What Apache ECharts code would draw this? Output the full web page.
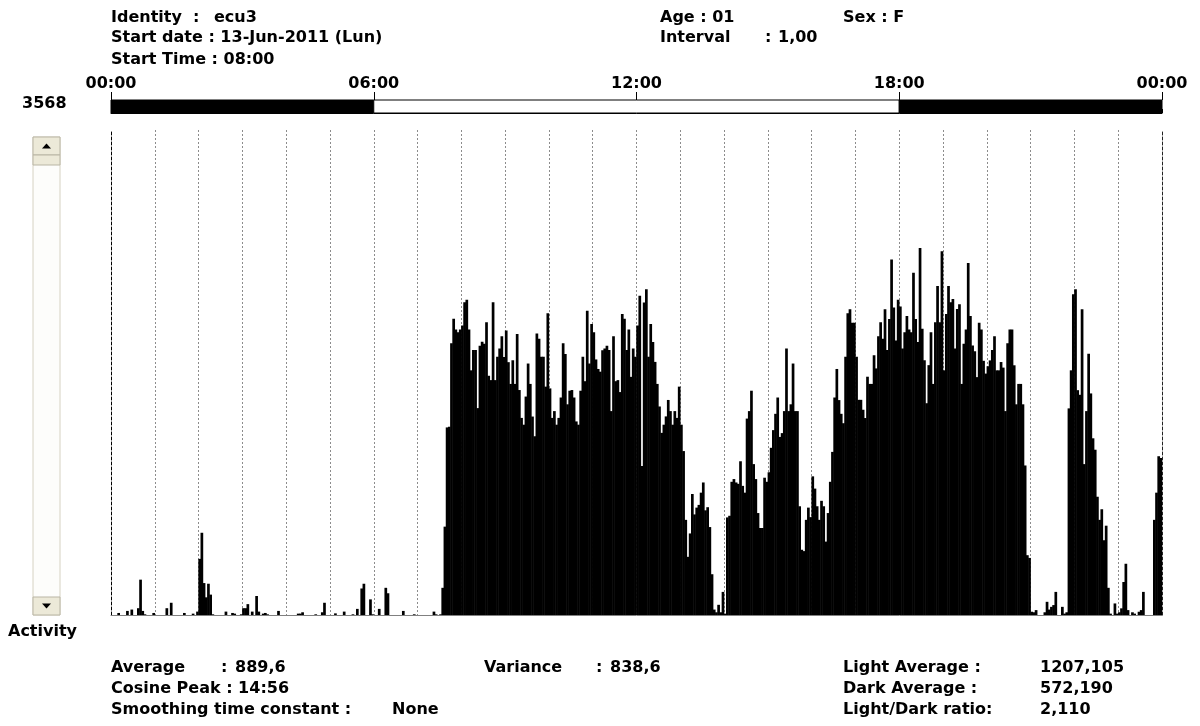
<!DOCTYPE html>
<html><head><meta charset="utf-8">
<script src="https://cdn.jsdelivr.net/npm/echarts@6/dist/echarts.min.js"></script>
<style>html,body{margin:0;padding:0;background:#fff}#c{width:1200px;height:726px}</style>
</head><body><div id="c"></div>
<script>
// ---- data (3-minute bins, 20 per hour) ----
const hourLabels = ['00:00','06:00','12:00','18:00','00:00'];
const lightPhases = [[0,6,0],[6,18,1],[18,24,0]]; // [startHour, endHour, isLight]
const yMax = 3568;
const binsPerHour = 20;

const act00_06 = [
  0,0,0,15,0,0,0,30,0,40,0,0,50,260,30,5,0,0,0,15,
  0,0,0,0,0,50,0,90,0,0,0,0,0,15,0,0,0,10,0,25,
  413,605,235,130,230,150,5,0,0,0,0,0,25,0,0,15,10,0,0,5,
  50,50,80,0,25,0,140,25,0,10,15,5,0,0,0,0,30,0,0,0,
  0,0,0,0,0,10,10,20,0,0,0,0,0,5,0,0,20,90,0,0,
  0,0,12,0,0,0,25,0,0,0,5,0,45,0,195,230,0,0,115,5
];
const act06_12 = [
  0,0,45,0,0,200,160,0,0,0,0,0,0,30,0,0,0,0,5,0,
  0,0,0,0,0,0,0,25,5,0,5,200,650,1380,1385,2000,2180,2100,2080,2100,
  2129,2300,2320,2100,1800,1950,1950,1522,1980,2010,1995,2153,1760,1728,2300,1728,1900,1960,2050,1898,
  2093,1860,1700,1874,1700,2068,1655,1450,1400,1607,1850,1700,1460,1315,2070,2032,1900,1900,1680,2220,
  1667,1450,1500,1400,1450,1600,2000,1920,1550,1650,1655,1600,1424,1400,1650,1900,1720,2238,1850,2140,
  2080,1880,1810,1790,1947,1960,1980,1950,1500,2050,1720,1728,1640,2214,2180,1950,2100,1752,1960,1900
];
const act12_18 = [
  2129,2348,1096,2299,2396,1900,2141,2008,1862,1700,1534,1340,1400,1461,1582,1500,1400,1500,1450,1680,
  1400,1206,700,428,600,890,740,790,810,900,975,770,793,647,300,40,20,75,20,170,
  10,718,730,980,1000,975,965,1131,950,900,1445,1500,1650,1110,1000,750,640,640,1010,980,
  1050,1230,1360,1480,1600,1310,1338,1500,1960,1500,1550,1850,1500,1500,800,480,470,700,790,720,
  1020,930,800,700,840,800,540,750,980,1200,1600,1810,1581,1480,1411,1900,2220,2250,2150,2150,
  1900,1583,1583,1510,1449,1753,1700,1700,1911,1814,2050,2154,2032,2250,1950,2178,2616,2263,2020,2320
];
const act18_24 = [
  2270,1960,2081,2200,2100,2081,2518,2178,2008,2700,2105,1874,1558,1838,2081,1700,2154,2421,2154,2676,
  1800,2215,2421,2300,2324,1960,2251,2287,1700,1995,2100,2590,2200,1983,1940,1750,2150,2100,1870,1776,
  1830,1873,1950,2050,1800,1800,1861,1820,1500,2000,2100,2100,1837,1550,1700,1700,1550,1100,440,420,
  24,20,36,0,0,0,20,97,40,60,73,170,0,0,60,10,20,1520,1800,2360,
  2397,1654,1620,2250,1110,1500,1922,1630,1300,1216,870,700,778,550,657,200,10,0,85,10,
  20,49,243,377,36,0,20,10,0,24,36,170,0,0,0,0,700,900,1168,1155
];

const activity = act00_06.concat(act06_12, act12_18, act18_24);
const categories = activity.map((_, i) => {
  const m = i * 60 / binsPerHour;
  return String(Math.floor(m / 60)).padStart(2,'0') + ':' + String(m % 60).padStart(2,'0');
});

// ---- layout/style ----
const FONT = 'bold 16px "DejaVu Sans"';
const PL = 111, PW = 1051;
function txt(s, x, y) {
  return {type:'text', style:{text:s, x:x, y:y, font:FONT, fill:'#000', align:'left', verticalAlign:'middle'}};
}
const texts = [
  ['Identity',111,18],[':',193,18],['ecu3',214,18],
  ['Start date : 13-Jun-2011 (Lun)',111,38],
  ['Start Time : 08:00',111,60],
  ['Age : 01',660,18],
  ['Sex : F',843,18],
  ['Interval',660,38],[':',765,38],['1,00',778,38],
  ['3568',22,104],
  ['Activity',8,632],
  ['Average',111,668],[':',221,668],['889,6',235,668],
  ['Cosine Peak : 14:56',111,689],
  ['Smoothing time constant :',111,710],['None',392,710],
  ['Variance',484,668],[':',596,668],['838,6',610,668],
  ['Light Average :',843,668],['1207,105',1040,668],
  ['Dark Average :',843,689],['572,190',1040,689],
  ['Light/Dark ratio:',843,710],['2,110',1040,710]
];
const beige = '#ECE9D8', edge = '#b9b5a4';
const scrollbar = [
  {type:'rect', shape:{x:33,y:137,width:27,height:478}, style:{fill:'#fdfdfb', stroke:'#d6d2c2', lineWidth:1}},
  {type:'rect', shape:{x:33,y:137,width:27,height:18}, style:{fill:beige, stroke:edge, lineWidth:1}},
  {type:'polygon', shape:{points:[[42,148.5],[51,148.5],[46.5,143.5]]}, style:{fill:'#000'}},
  {type:'rect', shape:{x:33,y:155,width:27,height:10}, style:{fill:beige, stroke:edge, lineWidth:1}},
  {type:'rect', shape:{x:33,y:597,width:27,height:18}, style:{fill:beige, stroke:edge, lineWidth:1}},
  {type:'polygon', shape:{points:[[42,603.5],[51,603.5],[46.5,608.5]]}, style:{fill:'#000'}}
];

const chart = echarts.init(document.getElementById('c'), null, {renderer:'canvas'});
chart.setOption({
  animation:false,
  backgroundColor:'#fff',
  grid:[
    {left:PL, top:130, width:PW, height:485},
    {left:PL, top:100, width:PW, height:13}
  ],
  xAxis:[
    {type:'category', gridIndex:0, data:categories, boundaryGap:true, position:'bottom',
     axisLine:{show:true, lineStyle:{color:'#808080', width:1}}, axisTick:{show:false}, axisLabel:{show:false}, splitLine:{show:false}},
    {type:'value', gridIndex:0, min:0, max:24, interval:1, position:'top',
     axisLine:{show:false}, axisTick:{show:false}, axisLabel:{show:false},
     splitLine:{show:true, showMinLine:false, showMaxLine:false, lineStyle:{color:'#8c8c8c', width:1, type:[2,2]}}},
    {type:'value', gridIndex:1, min:0, max:24, interval:1, position:'top',
     axisLine:{show:true, lineStyle:{color:'#000', width:1}},
     axisTick:{show:true, length:4, lineStyle:{color:'#000', width:1}},
     axisLabel:{show:true, margin:8, color:'#000', fontFamily:'DejaVu Sans', fontWeight:'bold', fontSize:16,
       showMinLabel:true, showMaxLabel:true,
       formatter:v => (v % 6 === 0 ? hourLabels[v/6] : '')},
     splitLine:{show:false}},
    {type:'value', gridIndex:1, min:0, max:24, interval:6, position:'top',
     axisLine:{show:false}, axisTick:{show:true, length:8, lineStyle:{color:'#000', width:1}},
     axisLabel:{show:false}, splitLine:{show:false}}
  ],
  yAxis:[
    {type:'value', gridIndex:0, min:0, max:yMax, position:'left',
     axisLine:{show:true, lineStyle:{color:'#000', width:1, type:[3,2]}}, axisTick:{show:false}, axisLabel:{show:false}, splitLine:{show:false}},
    {type:'value', gridIndex:0, min:0, max:yMax, position:'right',
     axisLine:{show:true, lineStyle:{color:'#222', width:1, type:[3,2]}}, axisTick:{show:false}, axisLabel:{show:false}, splitLine:{show:false}},
    {type:'value', gridIndex:1, min:0, max:1, show:false}
  ],
  series:[
    {type:'bar', xAxisIndex:0, yAxisIndex:0, data:activity, barWidth:2.7,
     itemStyle:{color:'#000'}, emphasis:{disabled:true}, silent:true},
    {type:'custom', xAxisIndex:2, yAxisIndex:2, data:lightPhases, silent:true,
     encode:{x:[0,1]},
     renderItem:(params, api) => {
       const p0 = api.coord([api.value(0), 0]);
       const p1 = api.coord([api.value(1), 1]);
       const light = api.value(2) === 1;
       return {type:'rect', shape:{x:p0[0], y:p1[1], width:p1[0]-p0[0], height:p0[1]-p1[1]},
               style:{fill: light ? '#fff' : '#000', stroke:'#000', lineWidth:1}};
     }}
  ],
  graphic: scrollbar.concat(texts.map(t => txt(t[0], t[1], t[2])))
});
</script></body></html>
